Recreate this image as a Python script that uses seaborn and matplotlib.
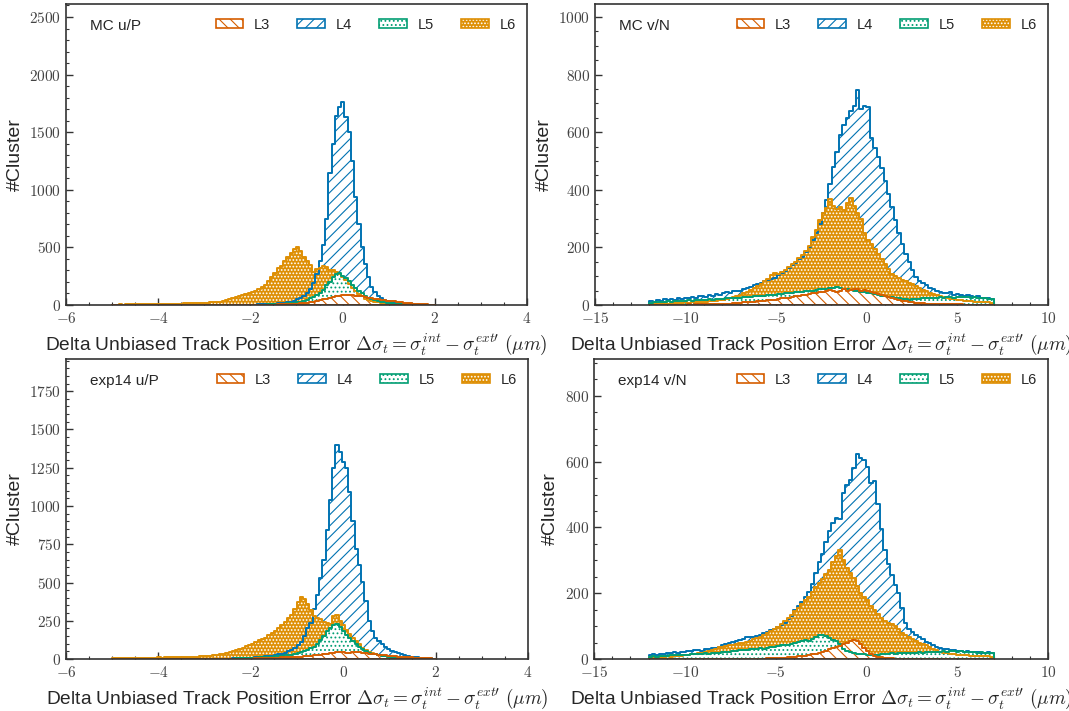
import numpy as np
import matplotlib
matplotlib.use('Agg')
import matplotlib.pyplot as plt
from matplotlib.patches import Patch
from matplotlib.ticker import MultipleLocator, FuncFormatter
import seaborn as sns

# layers and style
layers = ['L3', 'L4', 'L5', 'L6']
colors = {'L3': '#D55E00', 'L4': '#0173B2', 'L5': '#029E73', 'L6': '#DE8F05'}
hatches = {'L3': '\\\\\\', 'L4': '///', 'L5': '....', 'L6': '.....'}

# histogram ranges (100 bins each)
uP_range = (-5, 2)
vN_range = (-12, 7)

# ---- MC u/P ----
mc_uP_L3 = [0, 0, 0, 0, 0, 0, 0, 0, 0, 0,
            0, 0, 0, 0, 0, 0, 0, 0, 0, 0,
            0, 0, 0, 0, 0, 0, 0, 0, 0, 0,
            0, 0, 0, 0, 0, 0, 0, 0, 1, 0,
            1, 1, 1, 1, 2, 2, 2, 3, 3, 4,
            4, 5, 6, 7, 8, 9, 10, 12, 14, 17,
            20, 25, 28, 32, 40, 48, 55, 62, 70, 75,
            80, 85, 88, 90, 86, 82, 80, 75, 68, 62,
            58, 52, 48, 44, 42, 38, 35, 32, 28, 25,
            20, 17, 14, 12, 10, 8, 7, 5, 4, 3]
mc_uP_L4 = [0, 0, 1, 0, 0, 1, 0, 0, 1, 0,
            1, 0, 1, 1, 0, 1, 1, 1, 0, 1,
            1, 1, 1, 2, 1, 1, 2, 1, 2, 2,
            1, 1, 1, 1, 2, 1, 2, 2, 2, 2,
            2, 2, 3, 3, 4, 5, 6, 7, 8, 10,
            12, 14, 17, 20, 25, 30, 38, 48, 62, 80,
            105, 140, 195, 270, 380, 520, 750, 1150, 1400, 1640,
            1720, 1760, 1630, 1500, 1250, 940, 700, 500, 360, 245,
            160, 110, 80, 60, 45, 35, 28, 22, 18, 14,
            11, 9, 7, 6, 5, 4, 3, 3, 2, 2]
mc_uP_L5 = [0, 0, 0, 0, 0, 0, 0, 0, 0, 0,
            0, 0, 0, 0, 0, 0, 0, 0, 0, 0,
            0, 0, 0, 0, 0, 0, 0, 0, 0, 0,
            0, 0, 0, 0, 0, 0, 0, 0, 0, 1,
            0, 1, 1, 2, 2, 3, 3, 4, 5, 6,
            7, 8, 10, 12, 14, 16, 19, 22, 26, 32,
            45, 60, 70, 85, 100, 130, 170, 200, 245, 265,
            275, 255, 235, 205, 175, 150, 125, 100, 75, 60,
            48, 40, 33, 27, 22, 18, 15, 12, 10, 8,
            6, 5, 4, 3, 3, 2, 2, 1, 1, 1]
mc_uP_L6 = [3, 4, 5, 4, 6, 5, 7, 6, 8, 7,
            8, 9, 8, 10, 9, 11, 10, 12, 11, 13,
            12, 13, 14, 14, 15, 16, 18, 17, 19, 20,
            22, 24, 26, 30, 34, 45, 55, 62, 70, 80,
            88, 95, 105, 112, 125, 140, 155, 175, 210, 240,
            280, 320, 340, 380, 415, 450, 490, 505, 470, 420,
            385, 345, 290, 310, 320, 335, 330, 300, 305, 290,
            270, 240, 215, 180, 150, 120, 95, 75, 55, 45,
            35, 28, 22, 18, 15, 12, 10, 9, 8, 7,
            6, 5, 5, 4, 4, 3, 3, 2, 2, 2]

# ---- MC v/N ----
mc_vN_L3 = [0, 0, 1, 0, 1, 1, 0, 1, 1, 1,
            1, 2, 1, 2, 2, 2, 3, 2, 3, 3,
            4, 4, 5, 5, 6, 7, 8, 9, 10, 11,
            12, 13, 14, 15, 16, 18, 19, 21, 23, 25,
            26, 28, 30, 32, 34, 36, 38, 40, 42, 44,
            45, 47, 52, 48, 46, 50, 54, 49, 52, 56,
            55, 50, 53, 48, 45, 42, 38, 34, 30, 27,
            24, 21, 18, 15, 13, 11, 9, 8, 7, 6,
            5, 5, 4, 4, 3, 3, 3, 2, 2, 2,
            2, 1, 1, 1, 1, 1, 1, 1, 0, 0]
mc_vN_L4 = [15, 12, 18, 14, 20, 17, 22, 19, 24, 21,
            26, 23, 28, 25, 30, 33, 29, 35, 32, 38,
            36, 40, 44, 41, 47, 50, 48, 55, 58, 62,
            68, 72, 78, 84, 86, 92, 95, 104, 110, 118,
            128, 138, 146, 160, 168, 185, 200, 225, 250, 280,
            320, 365, 420, 480, 530, 590, 625, 650, 675, 690,
            745, 680, 690, 688, 580, 545, 515, 475, 430, 385,
            340, 295, 250, 212, 178, 150, 120, 96, 85, 76,
            68, 60, 56, 50, 46, 42, 40, 44, 36, 38,
            35, 32, 36, 30, 28, 31, 26, 24, 26, 20]
mc_vN_L5 = [8, 10, 9, 12, 11, 13, 12, 14, 13, 15,
            14, 16, 15, 17, 18, 17, 19, 20, 19, 21,
            22, 21, 23, 24, 25, 24, 26, 28, 27, 29,
            30, 32, 31, 33, 35, 34, 36, 38, 37, 40,
            42, 41, 44, 46, 45, 48, 50, 49, 52, 55,
            54, 57, 60, 58, 62, 60, 56, 55, 52, 50,
            48, 46, 44, 42, 40, 37, 35, 33, 31, 29,
            27, 25, 23, 21, 20, 19, 20, 21, 22, 23,
            24, 25, 26, 25, 27, 26, 28, 27, 26, 28,
            27, 29, 28, 26, 27, 25, 26, 24, 22, 20]
mc_vN_L6 = [3, 4, 5, 4, 6, 5, 7, 6, 8, 7,
            9, 8, 10, 9, 11, 12, 11, 13, 14, 15,
            16, 18, 20, 23, 27, 30, 35, 40, 46, 52,
            60, 65, 72, 82, 92, 105, 110, 108, 115, 122,
            132, 142, 150, 162, 172, 188, 205, 235, 262, 295,
            318, 338, 368, 345, 335, 340, 330, 355, 370, 345,
            318, 300, 250, 225, 212, 195, 178, 160, 143, 125,
            108, 100, 94, 88, 84, 78, 73, 65, 58, 53,
            48, 43, 38, 34, 30, 27, 24, 22, 20, 18,
            17, 15, 14, 13, 12, 11, 10, 10, 9, 8]

# ---- exp14 u/P ----
ex_uP_L3 = [0, 0, 0, 0, 0, 0, 0, 0, 0, 0,
            0, 0, 0, 0, 0, 0, 0, 0, 0, 0,
            0, 0, 0, 0, 0, 0, 0, 0, 0, 0,
            0, 0, 1, 1, 1, 1, 1, 2, 2, 2,
            2, 3, 3, 3, 4, 4, 5, 5, 6, 7,
            8, 9, 10, 11, 12, 13, 14, 15, 16, 18,
            20, 22, 24, 26, 28, 32, 36, 40, 42, 45,
            48, 46, 42, 40, 44, 48, 45, 40, 38, 35,
            32, 30, 28, 26, 24, 22, 20, 18, 16, 14,
            12, 11, 10, 9, 8, 7, 6, 5, 4, 3]
ex_uP_L4 = [0, 0, 0, 1, 0, 0, 0, 1, 0, 0,
            0, 1, 0, 0, 1, 0, 1, 0, 1, 1,
            0, 1, 1, 0, 1, 1, 1, 1, 1, 1,
            1, 1, 2, 2, 2, 3, 3, 4, 4, 5,
            6, 7, 8, 9, 10, 12, 14, 17, 20, 23,
            27, 31, 36, 42, 50, 60, 74, 90, 112, 150,
            200, 235, 330, 420, 530, 650, 840, 1040, 1250, 1400,
            1350, 1290, 1245, 1090, 900, 720, 615, 505, 380, 250,
            180, 140, 120, 100, 80, 68, 55, 46, 38, 30,
            25, 20, 16, 13, 10, 8, 6, 5, 4, 3]
ex_uP_L5 = [0, 0, 0, 0, 0, 0, 0, 0, 0, 0,
            0, 0, 0, 0, 0, 0, 0, 0, 0, 0,
            0, 0, 0, 0, 0, 0, 0, 0, 0, 0,
            1, 1, 1, 2, 2, 2, 3, 3, 4, 4,
            5, 6, 7, 8, 9, 10, 12, 13, 15, 16,
            18, 20, 22, 24, 26, 28, 32, 38, 45, 55,
            62, 70, 80, 100, 125, 150, 180, 200, 225, 232,
            210, 185, 160, 140, 120, 100, 80, 65, 50, 42,
            36, 30, 26, 22, 18, 15, 13, 11, 9, 8,
            7, 6, 5, 4, 4, 3, 3, 2, 2, 2]
ex_uP_L6 = [4, 5, 4, 6, 5, 6, 7, 6, 8, 7,
            8, 9, 8, 9, 10, 9, 11, 10, 12, 11,
            12, 13, 12, 14, 15, 14, 16, 17, 18, 20,
            22, 24, 27, 30, 35, 40, 45, 52, 58, 65,
            75, 85, 92, 100, 110, 122, 132, 140, 155, 170,
            185, 200, 225, 245, 265, 285, 330, 375, 405, 395,
            360, 320, 280, 270, 260, 245, 235, 230, 280, 290,
            250, 220, 190, 165, 140, 115, 95, 75, 60, 48,
            40, 33, 27, 22, 18, 15, 13, 11, 10, 9,
            8, 7, 6, 6, 5, 5, 4, 4, 3, 3]

# ---- exp14 v/N ----
ex_vN_L3 = [0, 0, 0, 0, 0, 0, 0, 0, 0, 0,
            0, 0, 0, 0, 0, 0, 0, 0, 0, 0,
            0, 0, 0, 0, 0, 0, 0, 0, 0, 0,
            0, 1, 1, 1, 2, 2, 3, 3, 4, 4,
            5, 6, 7, 8, 9, 10, 12, 14, 16, 18,
            20, 24, 30, 34, 38, 40, 45, 50, 55, 58,
            56, 45, 35, 25, 15, 10, 7, 5, 3, 2,
            2, 1, 1, 1, 1, 0, 0, 0, 0, 0,
            0, 0, 0, 0, 0, 0, 0, 0, 0, 0,
            0, 0, 0, 0, 0, 0, 0, 0, 0, 0]
ex_vN_L4 = [12, 14, 13, 16, 15, 18, 17, 20, 19, 22,
            21, 24, 23, 26, 28, 25, 30, 29, 33, 35,
            38, 42, 45, 48, 52, 54, 58, 62, 66, 68,
            68, 70, 72, 78, 82, 88, 92, 98, 103, 110,
            122, 130, 150, 160, 172, 188, 205, 228, 262, 295,
            320, 355, 390, 415, 428, 425, 505, 530, 545, 580,
            622, 610, 605, 585, 534, 540, 470, 395, 330, 290,
            255, 225, 202, 155, 110, 90, 82, 74, 68, 60,
            53, 48, 42, 37, 34, 31, 29, 27, 26, 25,
            23, 22, 24, 21, 20, 22, 19, 18, 20, 17]
ex_vN_L5 = [7, 8, 7, 9, 10, 9, 11, 12, 11, 12,
            13, 12, 14, 15, 14, 16, 17, 16, 18, 17,
            19, 20, 22, 21, 24, 25, 27, 26, 28, 30,
            29, 31, 33, 32, 35, 38, 36, 40, 42, 44,
            43, 46, 48, 52, 56, 58, 55, 62, 66, 72,
            74, 70, 64, 58, 54, 45, 32, 25, 20, 18,
            16, 15, 14, 13, 12, 12, 13, 14, 15, 16,
            17, 16, 17, 18, 17, 18, 19, 18, 20, 19,
            20, 21, 20, 22, 21, 23, 22, 24, 23, 22,
            23, 21, 22, 20, 21, 19, 20, 18, 19, 17]
ex_vN_L6 = [5, 6, 5, 7, 6, 8, 7, 9, 8, 10,
            11, 12, 14, 15, 17, 19, 22, 25, 28, 32,
            36, 38, 41, 43, 44, 46, 48, 50, 52, 56,
            60, 64, 68, 72, 78, 85, 90, 98, 108, 115,
            124, 135, 145, 155, 168, 180, 190, 205, 218, 230,
            242, 260, 270, 295, 312, 332, 300, 278, 262, 245,
            222, 202, 190, 178, 162, 148, 136, 124, 117, 110,
            106, 100, 92, 80, 72, 66, 60, 55, 50, 46,
            42, 36, 30, 26, 22, 19, 17, 15, 14, 13,
            12, 11, 11, 10, 10, 9, 9, 8, 8, 7]

panels = [
    ('MC u/P', uP_range, [mc_uP_L3, mc_uP_L4, mc_uP_L5, mc_uP_L6]),
    ('MC v/N', vN_range, [mc_vN_L3, mc_vN_L4, mc_vN_L5, mc_vN_L6]),
    ('exp14 u/P', uP_range, [ex_uP_L3, ex_uP_L4, ex_uP_L5, ex_uP_L6]),
    ('exp14 v/N', vN_range, [ex_vN_L3, ex_vN_L4, ex_vN_L5, ex_vN_L6]),
]
ylims = [2613, 1045, 1960, 912]
ymajor = [500, 200, 250, 200]
yminor = [100, 50, 50, 50]

sns.set_style('ticks')
plt.rcParams['font.family'] = ['Liberation Sans', 'DejaVu Sans']
plt.rcParams['mathtext.fontset'] = 'cm'
plt.rcParams['hatch.linewidth'] = 0.8

fig = plt.figure(figsize=(10.69, 7.11), dpi=100)
rects = [[0.0617, 0.571, 0.4313, 0.4234],
         [0.5566, 0.571, 0.4238, 0.4234],
         [0.0617, 0.0731, 0.4322, 0.4219],
         [0.5557, 0.0731, 0.4247, 0.4219]]

draw_order = ['L4', 'L6', 'L5', 'L3']
xlabel = (r'Delta Unbiased Track Position Error '
          r'$\Delta\sigma_t = \sigma_t^{int} - \sigma_t^{ext\prime}$ $(\mu m)$')

for k, (title, rng, series) in enumerate(panels):
    ax = fig.add_axes(rects[k])
    width = (rng[1] - rng[0]) / 100
    centers = rng[0] + width * (np.arange(100) + 0.5)
    data = dict(zip(layers, series))

    # fills first
    for lay in draw_order:
        c = colors[lay]
        face, edge = (c, 'white') if lay == 'L6' else ('white', c)
        sns.histplot(x=centers, weights=np.asarray(data[lay], float), bins=100, binrange=rng,
                     element='step', fill=True, ax=ax, color=c, facecolor=face, edgecolor=edge,
                     hatch=hatches[lay], linewidth=0, alpha=1)
    # outlines on top
    for lay in draw_order:
        sns.histplot(x=centers, weights=np.asarray(data[lay], float), bins=100, binrange=rng,
                     element='step', fill=True, ax=ax, color=colors[lay], facecolor='none',
                     edgecolor=colors[lay], linewidth=1.4)

    if k % 2 == 0:
        ax.set_xlim(-6, 4)
        ax.xaxis.set_major_locator(MultipleLocator(2))
        ax.xaxis.set_minor_locator(MultipleLocator(0.5))
    else:
        ax.set_xlim(-15, 10)
        ax.xaxis.set_major_locator(MultipleLocator(5))
        ax.xaxis.set_minor_locator(MultipleLocator(1))
    ax.set_ylim(0, ylims[k])
    ax.yaxis.set_major_locator(MultipleLocator(ymajor[k]))
    ax.yaxis.set_minor_locator(MultipleLocator(yminor[k]))
    fmt = FuncFormatter(lambda v, p: f'${v:g}$')
    ax.xaxis.set_major_formatter(fmt)
    ax.yaxis.set_major_formatter(fmt)
    ax.tick_params(which='both', direction='in', labelsize=11, labelcolor='#444444',
                   color='#333333')
    ax.tick_params(which='major', length=5, width=1)
    ax.tick_params(which='minor', length=2.5, width=0.8)
    ax.tick_params(axis='x', pad=4.5)
    for sp in ax.spines.values():
        sp.set_visible(True)
        sp.set_linewidth(1.2)
        sp.set_color('#333333')

    ax.set_ylabel('#Cluster', fontsize=14)
    ax.set_xlabel(xlabel, fontsize=13.8)
    ax.text(0.052, 0.927, title, transform=ax.transAxes, fontsize=11, va='center', ha='left')

    handles = []
    for lay in layers:
        c = colors[lay]
        if lay == 'L6':
            handles.append((Patch(facecolor=c, edgecolor='white', hatch=hatches[lay], linewidth=0),
                            Patch(facecolor='none', edgecolor=c, linewidth=1.2)))
        else:
            handles.append(Patch(facecolor='white', edgecolor=c, hatch=hatches[lay], linewidth=1.2))
    ax.legend(handles, layers, loc='upper right', bbox_to_anchor=(1.0, 0.99), ncol=4,
              frameon=False, fontsize=10.5, handlelength=1.9, handleheight=0.6,
              handletextpad=0.75, columnspacing=1.85, borderaxespad=0.35)

fig.savefig('out.png', dpi=100)
